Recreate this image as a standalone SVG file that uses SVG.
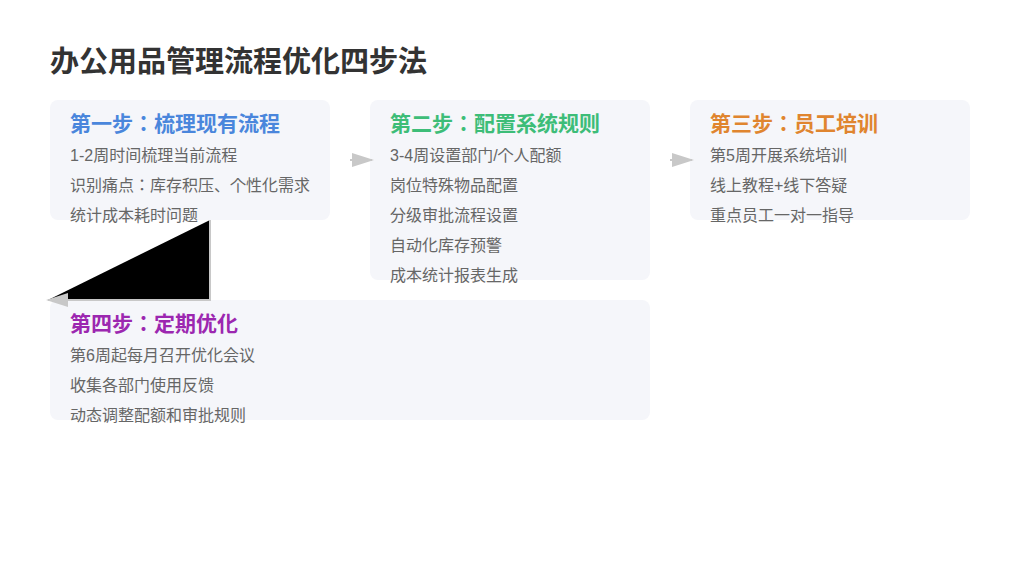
<svg xmlns="http://www.w3.org/2000/svg" width="1024" height="576" viewBox="0 0 1024 576">
<style>
.box{fill:#f5f6fa;}
.title{font-family:"Liberation Sans","Noto Sans CJK JP",sans-serif;font-size:29px;font-weight:bold;fill:#333333;}
.h{font-family:"Liberation Sans","Noto Sans CJK JP",sans-serif;font-size:21px;font-weight:bold;}
.t{font-family:"Liberation Sans","Noto Sans CJK JP",sans-serif;font-size:16px;fill:#666666;}
.c{stroke:#c8c8c8;stroke-width:2;}
</style>
<defs>
<marker id="arr" markerUnits="userSpaceOnUse" markerWidth="22" markerHeight="16" refX="20" refY="7" orient="auto">
<path d="M0,0 L22,7 L0,14 Z" fill="#c8c8c8"/>
</marker>
</defs>
<rect width="1024" height="576" fill="#ffffff"/>
<text class="title" x="50" y="72">办公用品管理流程优化四步法</text>
<g id="step1">
<rect class="box" x="50" y="100" width="280" height="120" rx="8"/>
<text class="h" x="70" y="131" fill="#4a86dc">第一步：梳理现有流程</text>
<text class="t" x="70" y="161">1-2周时间梳理当前流程</text>
<text class="t" x="70" y="191">识别痛点：库存积压、个性化需求</text>
<text class="t" x="70" y="221">统计成本耗时问题</text>
</g>
<g id="step2">
<rect class="box" x="370" y="100" width="280" height="180" rx="8"/>
<text class="h" x="390" y="131" fill="#3dbd78">第二步：配置系统规则</text>
<text class="t" x="390" y="161">3-4周设置部门/个人配额</text>
<text class="t" x="390" y="191">岗位特殊物品配置</text>
<text class="t" x="390" y="221">分级审批流程设置</text>
<text class="t" x="390" y="251">自动化库存预警</text>
<text class="t" x="390" y="281">成本统计报表生成</text>
</g>
<g id="step3">
<rect class="box" x="690" y="100" width="280" height="120" rx="8"/>
<text class="h" x="710" y="131" fill="#e0852f">第三步：员工培训</text>
<text class="t" x="710" y="161">第5周开展系统培训</text>
<text class="t" x="710" y="191">线上教程+线下答疑</text>
<text class="t" x="710" y="221">重点员工一对一指导</text>
</g>
<g id="step4">
<rect class="box" x="50" y="300" width="600" height="120" rx="8"/>
<text class="h" x="70" y="331" fill="#9c27b0">第四步：定期优化</text>
<text class="t" x="70" y="361">第6周起每月召开优化会议</text>
<text class="t" x="70" y="391">收集各部门使用反馈</text>
<text class="t" x="70" y="421">动态调整配额和审批规则</text>
</g>
<g id="connectors">
<line class="c" x1="350" y1="160" x2="372" y2="160" marker-end="url(#arr)"/>
<line class="c" x1="670" y1="160" x2="692" y2="160" marker-end="url(#arr)"/>
<path class="c" d="M210,220 L210,300 L48,300" fill="#000000" marker-end="url(#arr)"/>
</g>
</svg>
